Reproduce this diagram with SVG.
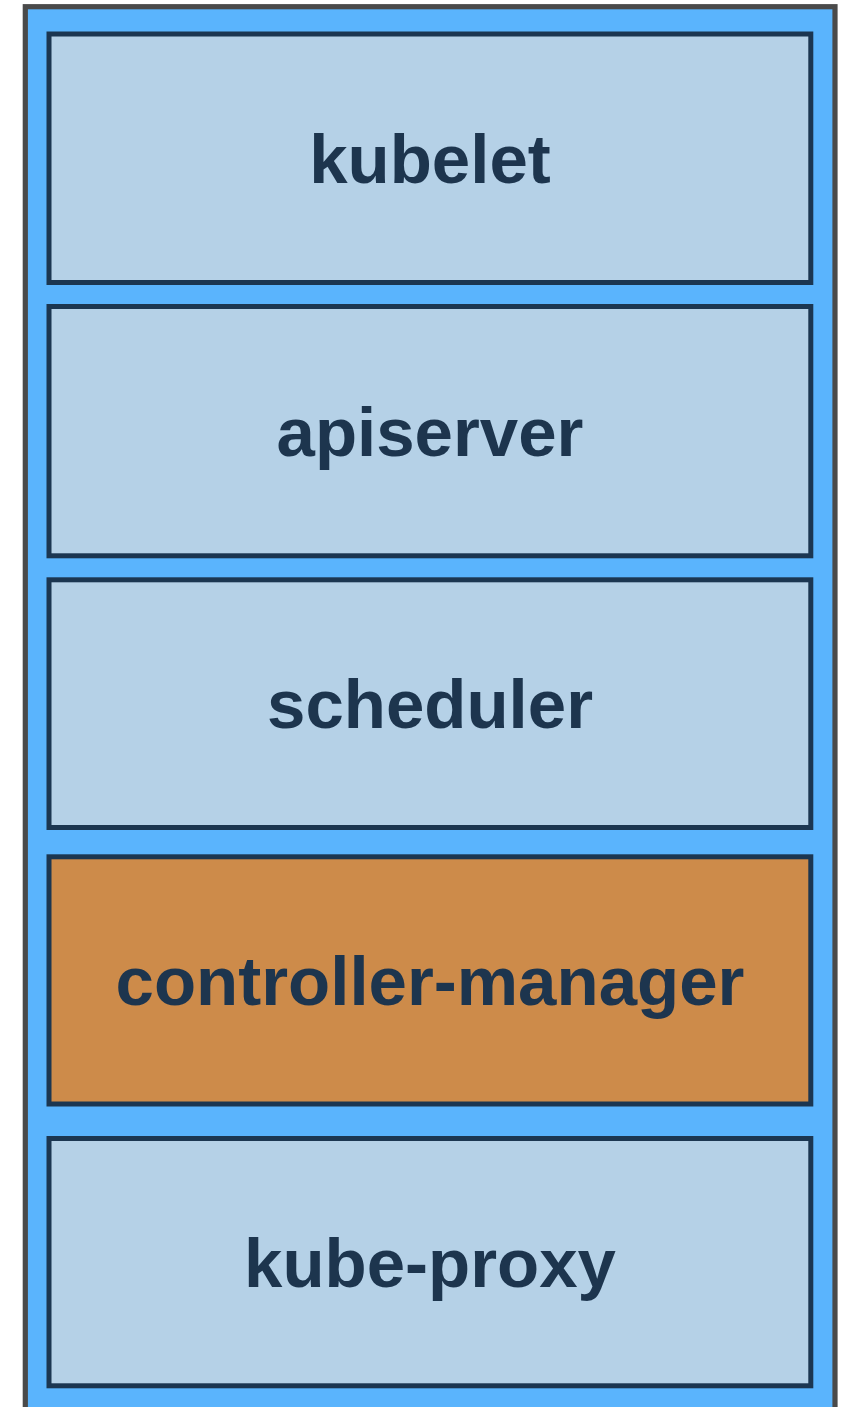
<svg xmlns="http://www.w3.org/2000/svg" width="850" height="1407" viewBox="0 0 850 1407">
  <style>
    .box { fill: #b5d1e7; stroke: #1b3651; stroke-width: 5; }
    .hl { fill: #cd8b4a; }
    .lbl { font-family: "Liberation Sans", Arial, Helvetica, sans-serif; font-weight: bold; font-size: 69px; fill: #1d354e; text-anchor: middle; }
  </style>
  <rect width="850" height="1407" fill="#ffffff"/>
  <g id="container">
    <rect x="25.3" y="6.7" width="809.7" height="1420" fill="#5ab4fd" stroke="#4a4a4a" stroke-width="5.2"/>
  </g>
  <g id="kubelet">
    <rect class="box" x="49" y="34" width="761.8" height="248.5"/>
    <text class="lbl" x="430" y="182.9">kubelet</text>
  </g>
  <g id="apiserver">
    <rect class="box" x="49" y="306.5" width="761.8" height="249.3"/>
    <text class="lbl" x="430" y="455.8">apiserver</text>
  </g>
  <g id="scheduler">
    <rect class="box" x="49" y="579.8" width="761.8" height="247.7"/>
    <text class="lbl" x="430" y="728.3">scheduler</text>
  </g>
  <g id="controller-manager">
    <rect class="box hl" x="49" y="856.8" width="761.8" height="247.2"/>
    <text class="lbl" x="430" y="1005">controller-manager</text>
  </g>
  <g id="kube-proxy">
    <rect class="box" x="49" y="1138.5" width="761.8" height="247.3"/>
    <text class="lbl" x="430" y="1286.8">kube-proxy</text>
  </g>
  <g id="connectors"></g>
</svg>
